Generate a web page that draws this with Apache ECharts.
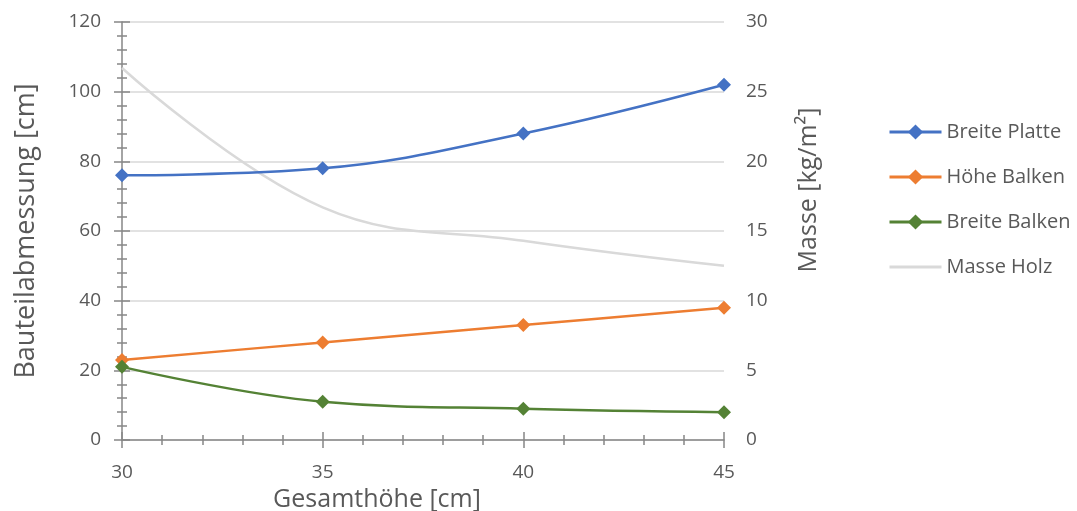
<!DOCTYPE html>
<html>
<head>
<meta charset="utf-8">
<script src="https://cdn.jsdelivr.net/npm/echarts@6/dist/echarts.min.js"></script>
<style>
  html, body { margin: 0; padding: 0; background: #fff; }
  #chart { width: 1077px; height: 511px; }
</style>
</head>
<body>
<div id="chart"></div>
<script>
// Gesamthöhe [cm]
const heights = [30, 35, 40, 45];
// Bauteilabmessung [cm]
const breitePlatte = [76, 78, 88, 102];
const hoeheBalken = [23, 28, 33, 38];
const breiteBalken = [21, 11, 9, 8];
// Masse [kg/m²]
const masseHolz = [26.7, 16.7, 14.3, 12.5];

const seriesNames = ['Breite Platte', 'Höhe Balken', 'Breite Balken', 'Masse Holz'];
const seriesColors = ['#4472C4', '#ED7D31', '#548235', '#D9D9D9'];

const FONT = '"Open Sans", "Noto Sans", sans-serif';
const TEXT = '#595959';
const AXIS = '#868686';

const pairs = (ys) => heights.map((x, i) => [x, ys[i]]);

const chart = echarts.init(document.getElementById('chart'), null, { renderer: 'canvas' });

const baseX = {
  type: 'value', min: 30, max: 45, interval: 5,
  splitLine: { show: false }
};

chart.setOption({
  animation: false,
  textStyle: { fontFamily: FONT },
  grid: { left: 122, right: 353, top: 22, bottom: 71, containLabel: false, outerBoundsMode: 'none' },
  legend: {
    orient: 'vertical',
    left: 888, top: 122, padding: 0,
    itemWidth: 52, itemHeight: 19, itemGap: 25,
    lineStyle: { width: 3 },
    data: [
      { name: seriesNames[0] },
      { name: seriesNames[1] },
      { name: seriesNames[2] },
      { name: seriesNames[3], itemStyle: { opacity: 0 } }
    ],
    textStyle: { color: TEXT, fontSize: 20, fontFamily: FONT }
  },
  xAxis: [
    Object.assign({}, baseX, {
      name: 'Gesamthöhe [cm]',
      nameLocation: 'middle', nameGap: 40,
      nameTextStyle: { color: TEXT, fontSize: 25, fontFamily: FONT, padding: [0, 92, 0, 0] },
      axisLine: { show: true, lineStyle: { color: AXIS, width: 1.5 } },
      axisTick: { show: true, inside: false, length: 8, lineStyle: { color: AXIS, width: 1.5 } },
      minorTick: { show: true, splitNumber: 5, length: 5, lineStyle: { color: AXIS, width: 1.5 } },
      axisLabel: { color: TEXT, fontSize: 19, margin: 23, fontFamily: FONT }
    }),
    Object.assign({}, baseX, {
      position: 'bottom',
      axisLine: { show: false },
      axisTick: { show: true, inside: true, length: 8, lineStyle: { color: AXIS, width: 1.5 } },
      minorTick: { show: true, splitNumber: 5, length: 5, lineStyle: { color: AXIS, width: 1.5 } },
      axisLabel: { show: false }
    })
  ],
  yAxis: [
    {
      type: 'value', min: 0, max: 120, interval: 20, position: 'left',
      name: 'Bauteilabmessung [cm]',
      nameLocation: 'middle', nameGap: 82,
      nameTextStyle: { color: TEXT, fontSize: 27, fontFamily: FONT },
      axisLine: { show: true, lineStyle: { color: AXIS, width: 1.5 } },
      axisTick: { show: true, inside: false, length: 8, lineStyle: { color: AXIS, width: 1.5 } },
      minorTick: { show: true, splitNumber: 5, length: 5, lineStyle: { color: AXIS, width: 1.5 } },
      axisLabel: { color: TEXT, fontSize: 19, margin: 21, fontFamily: FONT },
      splitLine: { show: true, lineStyle: { color: '#D9D9D9', width: 1.5 } }
    },
    {
      type: 'value', min: 0, max: 30, interval: 5, position: 'right',
      name: 'Masse [kg/m²]',
      nameLocation: 'middle', nameGap: 72,
      nameTextStyle: { color: TEXT, fontSize: 25, fontFamily: FONT, padding: [0, 0, 0, 82] },
      axisLine: { show: false },
      axisTick: { show: false },
      axisLabel: { color: TEXT, fontSize: 19, margin: 22, fontFamily: FONT },
      splitLine: { show: false }
    },
    {
      type: 'value', min: 0, max: 120, interval: 20, position: 'left',
      axisLine: { show: false },
      axisTick: { show: true, inside: true, length: 8, lineStyle: { color: AXIS, width: 1.5 } },
      minorTick: { show: true, splitNumber: 5, length: 5, lineStyle: { color: AXIS, width: 1.5 } },
      axisLabel: { show: false },
      splitLine: { show: false }
    }
  ],
  series: [
    {
      name: seriesNames[3], type: 'line', yAxisIndex: 1, data: pairs(masseHolz),
      smooth: 0.4, symbol: 'none', color: seriesColors[3],
      lineStyle: { width: 2.5, color: seriesColors[3] }, z: 1
    },
    {
      name: seriesNames[0], type: 'line', yAxisIndex: 0, data: pairs(breitePlatte),
      smooth: 0.4, symbol: 'diamond', symbolSize: 14, color: seriesColors[0],
      lineStyle: { width: 2.5 }, z: 3
    },
    {
      name: seriesNames[1], type: 'line', yAxisIndex: 0, data: pairs(hoeheBalken),
      smooth: 0.4, symbol: 'diamond', symbolSize: 14, color: seriesColors[1],
      lineStyle: { width: 2.5 }, z: 3
    },
    {
      name: seriesNames[2], type: 'line', yAxisIndex: 0, data: pairs(breiteBalken),
      smooth: 0.4, symbol: 'diamond', symbolSize: 14, color: seriesColors[2],
      lineStyle: { width: 2.5 }, z: 3
    }
  ]
});
</script>
</body>
</html>
